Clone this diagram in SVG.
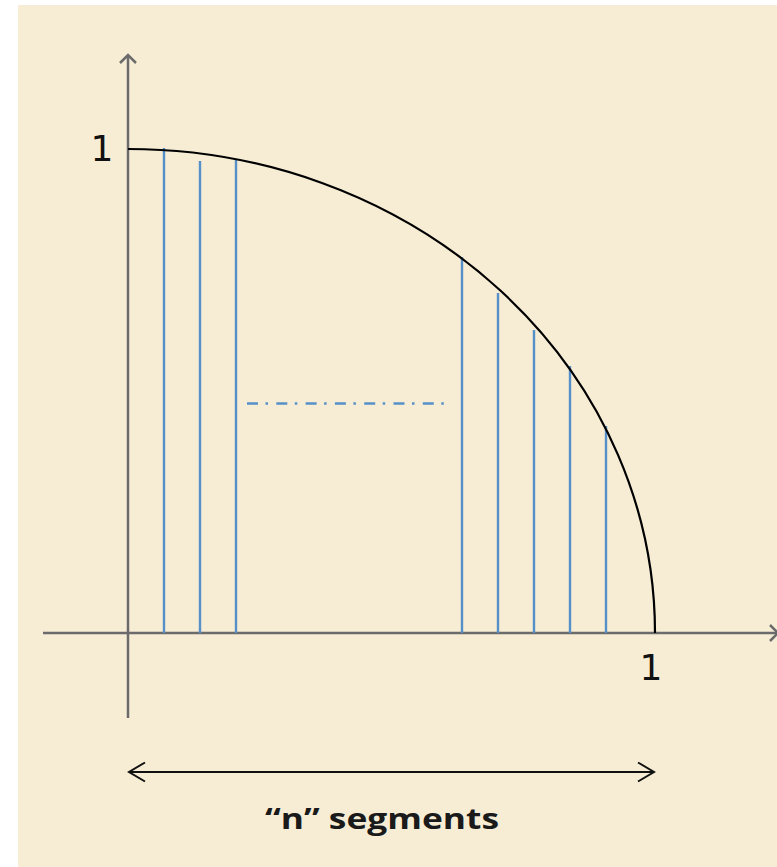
<svg xmlns="http://www.w3.org/2000/svg" width="777" height="867" viewBox="0 0 777 867">
  <defs>
    <style>
      .axis { stroke: #6b6b6b; stroke-width: 2.5; fill: none; }
      .strip { stroke: #5590c8; stroke-width: 2.4; fill: none; }
      .curve { stroke: #000; stroke-width: 2.2; fill: none; }
      .dim { stroke: #111; stroke-width: 2; fill: none; }
      .num { font-family: "DejaVu Sans", sans-serif; font-size: 36px; fill: #111; text-anchor: middle; }
      .caption { font-family: "Open Sans", "Liberation Sans", sans-serif; font-weight: bold; font-size: 28px; fill: #1a1a1a; text-anchor: middle; }
    </style>
    <marker id="axisHead" viewBox="-10 -10 12 20" refX="0" refY="0" markerUnits="userSpaceOnUse" markerWidth="12" markerHeight="20" orient="auto" overflow="visible">
      <path d="M-8,-8 L0,0 L-8,8" stroke="#6b6b6b" stroke-width="2.5" fill="none"/>
    </marker>
    <marker id="dimHead" viewBox="-18 -11 20 22" refX="0" refY="0" markerUnits="userSpaceOnUse" markerWidth="20" markerHeight="22" orient="auto-start-reverse" overflow="visible">
      <path d="M-16,-9.5 L0,0 L-16,9.5" stroke="#111" stroke-width="2" fill="none"/>
    </marker>
  </defs>
  <rect x="0" y="0" width="777" height="867" fill="#ffffff"/>
  <rect x="18" y="5" width="759" height="862" fill="#f7edd5"/>

  <g id="connectors">
    <line id="y-axis" class="axis" x1="128" y1="718" x2="128" y2="55" marker-end="url(#axisHead)"/>
    <line id="x-axis" class="axis" x1="43" y1="633" x2="778" y2="633" marker-end="url(#axisHead)"/>
    <line id="n-span" class="dim" x1="129" y1="772" x2="654" y2="772" marker-start="url(#dimHead)" marker-end="url(#dimHead)"/>
  </g>

  <g id="strips">
    <line class="strip" x1="164" y1="633" x2="164" y2="148"/>
    <line class="strip" x1="200" y1="633" x2="200" y2="161"/>
    <line class="strip" x1="236" y1="633" x2="236" y2="160"/>
    <line class="strip" x1="462" y1="633" x2="462" y2="257"/>
    <line class="strip" x1="498" y1="633" x2="498" y2="293"/>
    <line class="strip" x1="534" y1="633" x2="534" y2="330"/>
    <line class="strip" x1="570" y1="633" x2="570" y2="366"/>
    <line class="strip" x1="606" y1="633" x2="606" y2="426"/>
    <line class="strip" x1="247" y1="403.5" x2="447" y2="403.5" stroke-dasharray="11 7.5 2.5 8.3"/>
  </g>

  <g id="quarter-circle">
    <path class="curve" d="M128,149 A527,484 0 0 1 655,633"/>
  </g>

  <g id="labels">
    <text class="num" x="102" y="161">1</text>
    <text class="num" x="651" y="680">1</text>
    <text class="caption" x="382" y="829" textLength="234" lengthAdjust="spacingAndGlyphs">“n” segments</text>
  </g>
</svg>
